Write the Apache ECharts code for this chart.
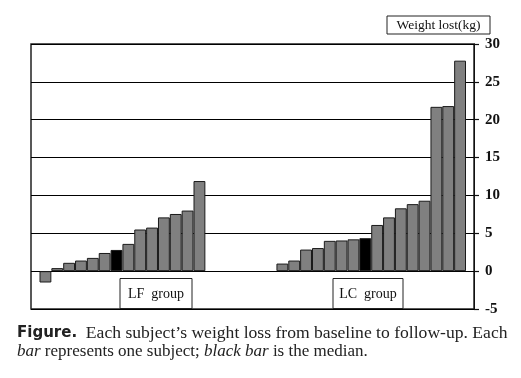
<!DOCTYPE html>
<html><head><meta charset="utf-8">
<script src="https://cdn.jsdelivr.net/npm/echarts@6/dist/echarts.min.js"></script>
<style>html,body{margin:0;padding:0;background:#fff}#c{width:521px;height:378px}</style>
</head><body><div id="c"></div>
<script>
// Data (weight lost, kg), sorted per group
var lfValues = [-1.5, 0.4, 1.1, 1.4, 1.75, 2.4, 2.8, 3.6, 5.5, 5.75, 7.1, 7.55, 8.0, 11.9];
var lcValues = [1.0, 1.4, 2.85, 3.05, 4.0, 4.05, 4.2, 4.35, 6.1, 7.1, 8.3, 8.85, 9.3, 21.7, 21.8, 27.8];
var lfMedianIndex = 6;
var lcMedianIndex = 7;
var gapSlots = 6;
var groupNames = ['LF  group', 'LC  group'];
var yTicks = [-5, 0, 5, 10, 15, 20, 25, 30];
var yTitle = 'Weight lost(kg)';

var barColor = '#808080', medianColor = '#000';
var data = [], cats = [];
lfValues.forEach(function (v, i) {
  cats.push('LF' + i);
  data.push(i === lfMedianIndex ? {value: v, itemStyle: {color: medianColor}} : v);
});
for (var g = 0; g < gapSlots; g++) { cats.push('gap' + g); data.push(null); }
lcValues.forEach(function (v, i) {
  cats.push('LC' + i);
  data.push(i === lcMedianIndex ? {value: v, itemStyle: {color: medianColor}} : v);
});

var chart = echarts.init(document.getElementById('c'), null, {renderer: 'canvas'});
var serif = '"Liberation Serif", "Times New Roman", serif';
var yMin = yTicks[0], yMax = yTicks[yTicks.length - 1];
chart.setOption({
  animation: false,
  backgroundColor: '#fff',
  grid: [
    {left: 31, right: 47, top: 44, bottom: 69, show: true, borderColor: '#222', borderWidth: 1.5, backgroundColor: 'transparent'},
    {left: 39.5, right: 55, top: 44, bottom: 69}
  ],
  xAxis: [
    {gridIndex: 0, type: 'category', data: ['a'], show: false},
    {gridIndex: 1, type: 'category', data: cats, show: false}
  ],
  yAxis: [
    {gridIndex: 0, type: 'value', position: 'right', min: yMin, max: yMax, interval: 5,
     axisLine: {show: true, lineStyle: {color: '#111', width: 1}},
     axisTick: {show: true, inside: false, length: 5, lineStyle: {color: '#111', width: 1.2}},
     axisLabel: {margin: 11, color: '#111', fontFamily: serif, fontWeight: 'bold', fontSize: 15},
     splitLine: {show: true, lineStyle: {color: '#000', width: 1}}},
    {gridIndex: 1, type: 'value', min: yMin, max: yMax, interval: 5, show: false, splitLine: {show: false}}
  ],
  series: [{
    type: 'bar', xAxisIndex: 1, yAxisIndex: 1, data: data,
    barCategoryGap: '0%', barWidth: '100%',
    itemStyle: {color: barColor, borderColor: '#1a1a1a', borderWidth: 1}
  }],
  graphic: [
    {type: 'rect', shape: {x: 387, y: 16, width: 103, height: 18}, style: {fill: '#fff', stroke: '#222', lineWidth: 1}, z: 10},
    {type: 'text', x: 438.5, y: 25, style: {text: yTitle, font: '13.5px ' + serif, fill: '#111', align: 'center', verticalAlign: 'middle'}, z: 11},
    {type: 'rect', shape: {x: 120, y: 278.5, width: 72, height: 30}, style: {fill: '#fff', stroke: '#222', lineWidth: 1}, z: 10},
    {type: 'text', x: 156, y: 294, style: {text: groupNames[0], font: '14px ' + serif, fill: '#111', align: 'center', verticalAlign: 'middle'}, z: 11},
    {type: 'rect', shape: {x: 333, y: 278.5, width: 70, height: 30}, style: {fill: '#fff', stroke: '#222', lineWidth: 1}, z: 10},
    {type: 'text', x: 368, y: 294, style: {text: groupNames[1], font: '14px ' + serif, fill: '#111', align: 'center', verticalAlign: 'middle'}, z: 11},
    {type: 'text', x: 17, y: 333, z: 11, style: {
      text: '{b|Figure.}{r|  Each subject\u2019s weight loss from baseline to follow-up. Each}',
      verticalAlign: 'middle', fill: '#222',
      rich: {b: {fontFamily: '"DejaVu Sans", sans-serif', fontWeight: 'bold', fontSize: 15, fill: '#222'},
             r: {fontFamily: serif, fontSize: 17.6, fill: '#222'}}
    }},
    {type: 'text', x: 17, y: 352, z: 11, style: {
      text: '{i|bar}{r| represents one subject; }{i|black bar}{r| is the median.}',
      verticalAlign: 'middle', fill: '#222',
      rich: {i: {fontFamily: serif, fontStyle: 'italic', fontSize: 17, fill: '#222'},
             r: {fontFamily: serif, fontSize: 17, fill: '#222'}}
    }}
  ]
});
</script></body></html>
